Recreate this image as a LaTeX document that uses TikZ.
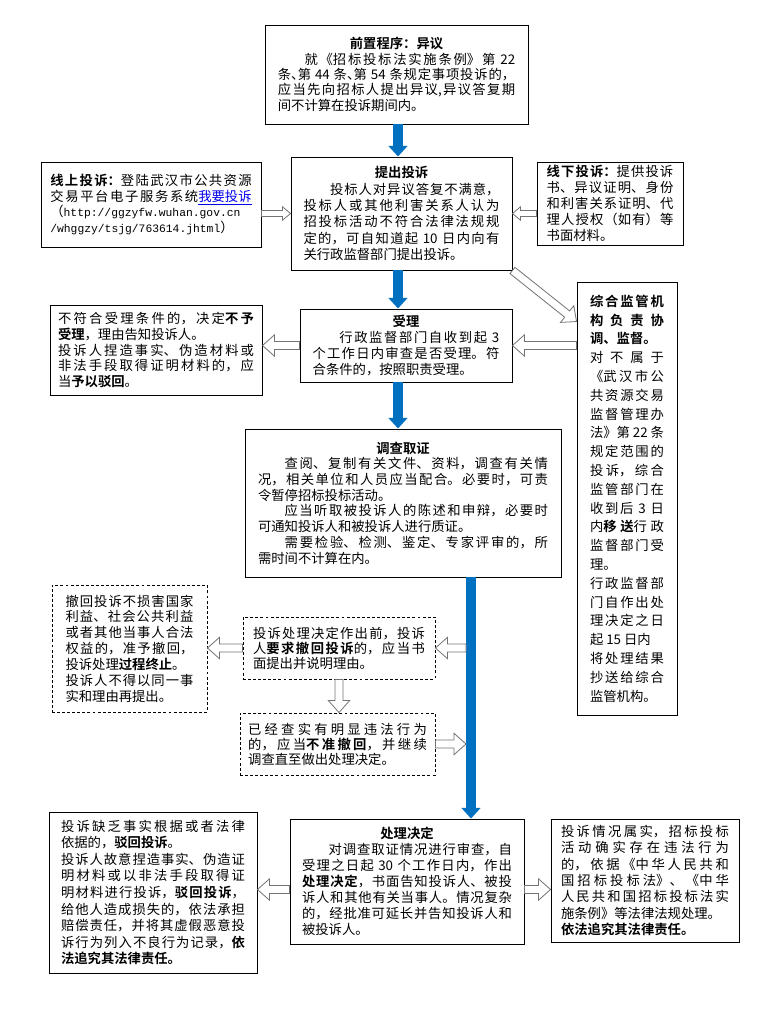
\documentclass[tikz,border=0pt]{standalone}
\usepackage{fontspec}
\setmainfont{Noto Sans CJK SC}[BoldFont={Noto Sans CJK SC Bold}]
\newfontfamily\urlfont{Liberation Mono}
\XeTeXlinebreaklocale "zh"
\XeTeXlinebreakskip=0pt plus 1pt
\usetikzlibrary{arrows.meta,calc}
\setlength{\parindent}{0pt}
\definecolor{flowblue}{RGB}{0,112,192}
\definecolor{linkblue}{RGB}{0,0,238}
\newcommand{\dunhao}{\makebox[0.5em][l]{、}}

\begin{document}
\begin{tikzpicture}[x=0.75pt,y=-0.75pt,
    box/.style={draw, line width=0.7pt, inner sep=0pt, align=justify,
        font=\fontsize{10pt}{12pt}\selectfont},
    dbox/.style={box, dash pattern=on 2.2pt off 1.6pt},
    flow/.style={draw=flowblue, line width=7.5pt, -{Triangle[length=8pt,width=14pt]}},
    arrow geom/.code n args={3}{\def\arrsw{#1}\def\arrhw{#2}\def\arrhl{#3}},
    hollow/.style={draw=black!55, fill=white, line width=0.6pt, arrow geom={3pt}{8pt}{9pt},
        to path={($(\tikztostart)!\arrsw!90:(\tikztotarget)$)
            -- ($(\tikztotarget)!\arrhl!(\tikztostart)!\arrsw!-90:(\tikztostart)$)
            -- ($(\tikztotarget)!\arrhl!(\tikztostart)!\arrhw!-90:(\tikztostart)$)
            -- (\tikztotarget)
            -- ($(\tikztotarget)!\arrhl!(\tikztostart)!\arrhw!90:(\tikztostart)$)
            -- ($(\tikztotarget)!\arrhl!(\tikztostart)!\arrsw!90:(\tikztostart)$)
            -- ($(\tikztostart)!\arrsw!-90:(\tikztotarget)$) -- cycle}},
    hollow small/.style={hollow, arrow geom={2.2pt}{5pt}{6pt}}]

    \useasboundingbox (0,0) rectangle (765,1011);

    % Boxes of the main flow
    \node[box, minimum width=197.25pt, minimum height=74.25pt, text width=178pt,
        font=\fontsize{10pt}{11.5pt}\selectfont] (yy) at (396.5,74.5) {%
        {\centering\bfseries 前置程序：异议\par}
        \hspace*{2em}就《招标投标法实施条例》第~22\linebreak
        条\dunhao 第~44~条\dunhao 第~54~条规定事项投诉的，\linebreak
        应当先向招标人提出异议,异议答复期\linebreak
        间不计算在投诉期间内。};

    \node[box, minimum width=165.75pt, minimum height=84.75pt, text width=147pt,
        font=\fontsize{10pt}{12.2pt}\selectfont] (tc) at (401.5,213.5) {%
        {\centering\bfseries 提出投诉\par}
        \hspace*{2em}投标人对异议答复不满意，\linebreak
        投标人或其他利害关系人认为\linebreak
        招投标活动不符合法律法规规\linebreak
        定的，可自知道起~10~日内向有\linebreak
        关行政监督部门提出投诉。};

    \node[box, minimum width=159pt, minimum height=54.75pt, text width=140pt] (sl) at (406,345.5) {%
        {\centering\bfseries 受理\par}
        \hspace*{2em}行政监督部门自收到起~3\linebreak
        个工作日内审查是否受理。符\linebreak
        合条件的，按照职责受理。};

    \node[box, minimum width=237pt, minimum height=111pt, text width=217.5pt,
        font=\fontsize{10pt}{11.8pt}\selectfont] (dc) at (403,503) {%
        {\centering\bfseries 调查取证\par}
        \hspace*{2em}查阅、复制有关文件、资料，调查有关情\linebreak
        况，相关单位和人员应当配合。必要时，可责\linebreak
        令暂停招标投标活动。\\
        \hspace*{2em}应当听取被投诉人的陈述和申辩，必要时\linebreak
        可通知投诉人和被投诉人进行质证。\\
        \hspace*{2em}需要检验、检测、鉴定、专家评审的，所\linebreak
        需时间不计算在内。};

    \node[box, minimum width=175.5pt, minimum height=93.75pt, text width=157.5pt] (cl) at (407,881.5) {%
        {\centering\bfseries 处理决定\par}
        \hspace*{2em}对调查取证情况进行审查，自\linebreak
        受理之日起~30~个工作日内，作出\linebreak
        {\bfseries 处理决定}，书面告知投诉人、被投\linebreak
        诉人和其他有关当事人。情况复杂\linebreak
        的，经批准可延长并告知投诉人和\linebreak
        被投诉人。};

    % Side boxes
    \node[box, minimum width=165pt, minimum height=63.75pt, text width=151pt,
        font=\fontsize{10pt}{11.8pt}\selectfont] (ol) at (151,204.5) {%
        {\bfseries 线上投诉：}登陆武汉市公共资源\linebreak
        交易平台电子服务系统{\color{linkblue}\underline{我要投诉}}\linebreak
        （{\urlfont\fontsize{8.5pt}{11.8pt}\selectfont http://ggzyfw.wuhan.gov.cn}\\
        {\urlfont\fontsize{8.5pt}{11.8pt}\selectfont /whggzy/tsjg/763614.jhtml}）};

    \node[box, minimum width=109.5pt, minimum height=62.25pt, text width=95pt,
        font=\fontsize{10pt}{11.9pt}\selectfont] (xx) at (610,203.5) {%
        {\bfseries 线下投诉：}提供投诉\linebreak
        书、异议证明、身份\linebreak
        和利害关系证明、代\linebreak
        理人授权（如有）等\linebreak
        书面材料。};

    \node[box, minimum width=159pt, minimum height=67.5pt, text width=147pt,
        font=\fontsize{10pt}{11.9pt}\selectfont] (bf) at (156,350) {%
        不符合受理条件的，决定{\bfseries 不予}\linebreak
        {\bfseries 受理}，理由告知投诉人。\\
        投诉人捏造事实、伪造材料或\linebreak
        非法手段取得证明材料的，应\linebreak
        当{\bfseries 予以驳回}。};

    \node[box, minimum width=75pt, minimum height=324.75pt, text width=55.5pt,
        font=\fontsize{10pt}{14.1pt}\selectfont] (zh) at (627,498.5) {%
        {\bfseries 综合监管机\linebreak 构负责协\linebreak 调、监督。}\\
        对不属于\linebreak
        《武汉市公\linebreak
        共资源交易\linebreak
        监督管理办\linebreak
        法》第~22~条\linebreak
        规定范围的\linebreak
        投诉，综合\linebreak
        监管部门在\linebreak
        收到后~3~日\linebreak
        内{\bfseries 移送}行政\linebreak
        监督部门受\linebreak
        理。\\
        行政监督部\linebreak
        门自作出处\linebreak
        理决定之日\linebreak
        起~15~日内\\
        将处理结果\linebreak
        抄送给综合\linebreak
        监管机构。};

    % Withdrawal boxes
    \node[dbox, minimum width=116.25pt, minimum height=95.25pt, text width=96pt,
        font=\fontsize{10pt}{11.9pt}\selectfont] (d14) at (129.5,648.5) {%
        撤回投诉不损害国家\linebreak
        利益、社会公共利益\linebreak
        或者其他当事人合法\linebreak
        权益的，准予撤回，\linebreak
        投诉处理{\bfseries 过程终止}。\\
        投诉人不得以同一事\linebreak
        实和理由再提出。};

    \node[dbox, minimum width=144pt, minimum height=46.5pt, text width=129pt,
        font=\fontsize{10pt}{11.3pt}\selectfont] (d15) at (339,648) {%
        投诉处理决定作出前，投诉\linebreak
        人{\bfseries 要求撤回投诉}的，应当书\linebreak
        面提出并说明理由。};

    \node[dbox, minimum width=146.25pt, minimum height=46.5pt, text width=134pt,
        font=\fontsize{10pt}{11.3pt}\selectfont] (d16) at (337.5,744) {%
        已经查实有明显违法行为\linebreak
        的，应当{\bfseries 不准撤回}，并继续\linebreak
        调查直至做出处理决定。};

    % Outcome boxes
    \node[box, minimum width=156pt, minimum height=120.75pt, text width=138pt,
        font=\fontsize{10pt}{12.4pt}\selectfont] (lb) at (153,892.5) {%
        投诉缺乏事实根据或者法律\linebreak
        依据的，{\bfseries 驳回投诉}。\\
        投诉人故意捏造事实、伪造证\linebreak
        明材料或以非法手段取得证\linebreak
        明材料进行投诉，{\bfseries 驳回投诉}，\linebreak
        给他人造成损失的，依法承担\linebreak
        赔偿责任，并将其虚假恶意投\linebreak
        诉行为列入不良行为记录，{\bfseries 依}\linebreak
        {\bfseries 法追究其法律责任。}};

    \node[box, minimum width=141pt, minimum height=92.25pt, text width=126pt,
        font=\fontsize{10pt}{12.2pt}\selectfont] (rb) at (645,880.5) {%
        投诉情况属实，招标投标\linebreak
        活动确实存在违法行为\linebreak
        的，依据《中华人民共和\linebreak
        国招标投标法》、《中华\linebreak
        人民共和国招标投标法实\linebreak
        施条例》等法律法规处理。\\
        {\bfseries 依法追究其法律责任。}};

    % helper points
    \coordinate (bluea) at (398,0);
    \coordinate (bluex) at (471,0);
    \coordinate (bluel) at (466,0);
    \coordinate (dgend) at ($(zh.north west)+(0,40)$);
    \coordinate (clw) at ($(cl.west)+(0,8)$);
    \coordinate (cle) at ($(cl.east)+(0,8)$);

    % Blue main arrows
    \draw[flow] (yy.south -| bluea) -- (tc.north -| bluea);
    \draw[flow] (tc.south -| bluea) -- (sl.north -| bluea);
    \draw[flow] (sl.south -| bluea) -- (dc.north -| bluea);
    \draw[flow] (dc.south -| bluex) -- (cl.north -| bluex);

    % Hollow arrows
    \path[hollow small] (tc.west -| ol.east) to (tc.west);
    \path[hollow small] (tc.east -| xx.west) to (tc.east);
    \path[hollow] (sl.west) to (sl.west -| bf.east);
    \path[hollow] (sl.east -| zh.west) to (sl.east);
    \path[hollow] (tc.south east) to (dgend);
    \path[hollow] (bluel |- d15.east) to (d15.east);
    \path[hollow] (d15.west) to (d15.west -| d14.east);
    \path[hollow] (d15.south) to (d15.south |- d16.north);
    \path[hollow] (d16.east) to (bluel |- d16.east);
    \path[hollow] (clw) to (clw -| lb.east);
    \path[hollow] (cle) to (cle -| rb.west);

\end{tikzpicture}
\end{document}
